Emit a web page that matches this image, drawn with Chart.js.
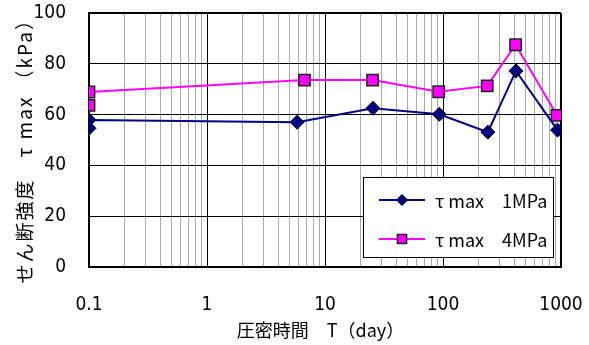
<!DOCTYPE html>
<html>
<head>
<meta charset="utf-8">
<script src="https://cdn.jsdelivr.net/npm/chart.js@4.4.1/dist/chart.umd.min.js"></script>
<style>
  html, body { margin: 0; padding: 0; background: #fff; }
  #wrap { width: 589px; height: 345px; }
</style>
</head>
<body>
<div id="wrap"><canvas id="chart"></canvas></div>
<script>
// consolidation time T (day) and max shear strength (kPa)
const days1 = [0.1, 0.1, 5.8, 25.5, 93, 240, 415, 935];
const tau1 = [54.6, 57.9, 57.0, 62.5, 60.1, 53.1, 77.2, 53.9];
const days4 = [0.1, 0.1, 6.7, 25.3, 92, 237, 412, 925];
const tau4 = [63.6, 68.9, 73.6, 73.6, 69.0, 71.3, 87.5, 59.7];

const seriesNames = ['τ max　1MPa', 'τ max　4MPa'];
const xDecades = [0.1, 1, 10, 100, 1000];
const xTickLabels = ['0.1', '1', '10', '100', '1000'];
const yTicks = [0, 20, 40, 60, 80, 100];

const numFont = "'DejaVu Sans Condensed', 'Liberation Sans Narrow', 'Liberation Sans', Arial, sans-serif";
const jpFont = "'Noto Sans CJK JP', 'Liberation Sans', sans-serif";

// all the log grid positions: 1..9 in each decade
const xGrid = [];
xDecades.forEach((d, i) => {
  if (i === xDecades.length - 1) { xGrid.push(d); return; }
  for (let k = 1; k < 10; k++) xGrid.push(+(d * k).toPrecision(3));
});

const isDecade = (v) => xDecades.some(d => Math.abs(d - v) < 1e-9);

// no extra room for overhanging labels, the plot area is fixed
const noPad = (scale) => {
  scale.paddingLeft = 0; scale.paddingRight = 0;
  scale.paddingTop = 0; scale.paddingBottom = 0;
};

// the vertical title in the original has its characters spread out
const spacedYTitle = {
  id: 'spacedYTitle',
  beforeDraw(chart) {
    const s = chart.scales.y;
    if (s._spaced) return;
    const orig = s.drawTitle;
    s.drawTitle = function () {
      const c = this.ctx;
      c.save();
      c.letterSpacing = '2px';
      orig.apply(this, arguments);
      c.restore();
    };
    s._spaced = true;
  }
};

// legend in a box inside the plot, like the original
const boxLegend = {
  id: 'boxLegend',
  afterDraw(chart) {
    const ctx = chart.ctx;
    const x0 = 363, y0 = 177, w = 190, h = 80;
    ctx.save();
    ctx.fillStyle = '#fff';
    ctx.fillRect(x0, y0, w, h);
    ctx.strokeStyle = '#000';
    ctx.lineWidth = 1;
    ctx.strokeRect(x0 + 0.5, y0 + 0.5, w, h);
    chart.data.datasets.forEach((ds, i) => {
      const y = y0 + 23 + i * 39;
      ctx.strokeStyle = ds.borderColor;
      ctx.lineWidth = ds.borderWidth;
      ctx.beginPath();
      ctx.moveTo(x0 + 16, y);
      ctx.lineTo(x0 + 62, y);
      ctx.stroke();
      ctx.fillStyle = ds.pointBackgroundColor;
      ctx.strokeStyle = ds.pointBorderColor;
      ctx.lineWidth = ds.pointBorderWidth;
      Chart.helpers.drawPoint(ctx, {
        pointStyle: ds.pointStyle,
        radius: ds.pointRadius - 1.5,
        borderWidth: ds.pointBorderWidth
      }, x0 + 39, y);
      ctx.fillStyle = '#000';
      ctx.font = "18px " + jpFont;
      ctx.textBaseline = 'middle';
      ctx.fillText(ds.label, x0 + 72, y + 1);
    });
    ctx.restore();
  }
};

const ctx = document.getElementById('chart').getContext('2d');
const myChart = new Chart(ctx, {
  type: 'scatter',
  data: {
    datasets: [
      {
        label: seriesNames[0],
        data: days1.map((d, i) => ({ x: d, y: tau1[i] })),
        showLine: true,
        borderColor: '#000080',
        backgroundColor: '#000080',
        borderWidth: 2,
        pointStyle: 'rectRot',
        pointRadius: 7,
        pointHoverRadius: 7,
        pointBackgroundColor: '#000080',
        pointBorderColor: '#000',
        pointBorderWidth: 1,
      },
      {
        label: seriesNames[1],
        data: days4.map((d, i) => ({ x: d, y: tau4[i] })),
        showLine: true,
        borderColor: '#ff00ff',
        backgroundColor: '#ff00ff',
        borderWidth: 2,
        pointStyle: 'rect',
        pointRadius: 8,
        pointHoverRadius: 8,
        pointBackgroundColor: '#ff00ff',
        pointBorderColor: '#222',
        pointBorderWidth: 1.5,
      },
    ],
  },
  options: {
    responsive: true,
    maintainAspectRatio: false,
    animation: false,
    layout: { padding: { top: 13, right: 28, left: 0, bottom: 0 } },
    scales: {
      x: {
        type: 'logarithmic',
        min: 0.1,
        max: 1000,
        afterBuildTicks: (scale) => {
          scale.ticks = xGrid.map(v => ({ value: v, major: isDecade(v) }));
        },
        afterFit: (scale) => { scale.height = 78; noPad(scale); },
        ticks: {
          autoSkip: false,
          maxRotation: 0,
          padding: 27,
          color: '#000',
          font: { family: numFont, size: 19 },
          callback: (value) => {
            const i = xDecades.findIndex(d => Math.abs(d - value) < 1e-9);
            return i >= 0 ? xTickLabels[i] : '';
          },
        },
        grid: {
          drawTicks: false,
          color: (c) => (c.tick && isDecade(c.tick.value)) ? '#000' : '#aaaaaa',
          lineWidth: (c) => (c.tick && c.tick.value === 1000) ? 2 : 1,
        },
        border: { color: '#000', width: 2 },
        title: {
          display: true,
          text: '圧密時間　T（day）　',
          color: '#000',
          font: { family: jpFont, size: 18 },
          padding: { top: 0, bottom: 4 },
        },
      },
      y: {
        min: 0,
        max: 100,
        afterBuildTicks: (scale) => {
          scale.ticks = yTicks.map(v => ({ value: v }));
        },
        afterFit: (scale) => { scale.width = 89; noPad(scale); },
        ticks: {
          padding: 23,
          color: '#000',
          font: { family: numFont, size: 19 },
        },
        grid: {
          drawTicks: false,
          color: '#000',
          lineWidth: (c) => (c.tick && c.tick.value === 100) ? 2 : 1,
        },
        border: { color: '#000', width: 2 },
        title: {
          display: true,
          text: 'せん断強度　τ max （kPa）  ',
          color: '#000',
          font: { family: jpFont, size: 19 },
          padding: { top: 13, bottom: 0 },
        },
      },
    },
    plugins: {
      legend: { display: false },
      tooltip: { enabled: false },
    },
  },
  plugins: [spacedYTitle, boxLegend],
});
</script>
</body>
</html>
